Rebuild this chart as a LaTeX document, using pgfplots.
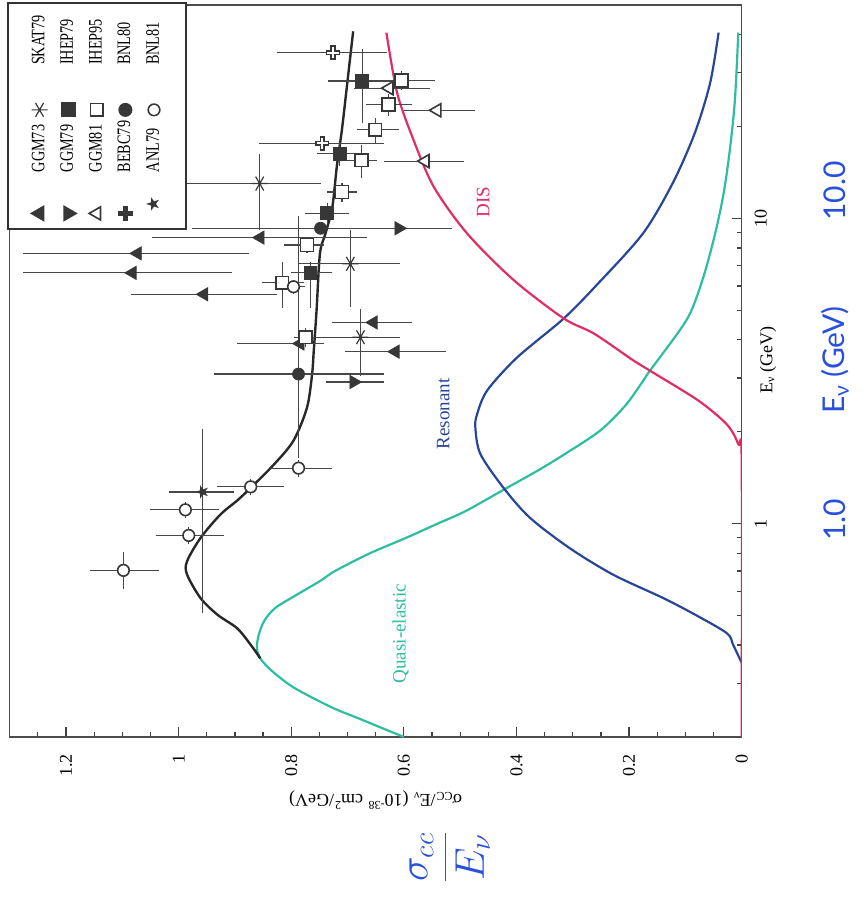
\documentclass[border=0pt]{standalone}
\usepackage{pgfplots}
\pgfplotsset{compat=1.18}
\usepackage{pgfplotstable}
\usepackage{fontspec}
\setmainfont{Liberation Serif}
\newfontfamily\condfont[FakeStretch=0.75]{Liberation Serif}
\newfontfamily\handfont{Lato}
\newfontfamily\symfont{DejaVu Sans}
\usetikzlibrary{plotmarks}

\definecolor{qecol}{RGB}{45,190,160}
\definecolor{rescol}{RGB}{40,70,150}
\definecolor{discol}{RGB}{225,45,100}
\definecolor{totcol}{RGB}{40,40,40}
\definecolor{pencol}{RGB}{40,80,220}
\definecolor{markcol}{RGB}{55,55,55}

% Model curves: E (GeV), sigma/E (1e-38 cm^2/GeV)
\pgfplotstableread{
E s
0.20 0.600
0.23 0.680
0.25 0.728
0.29 0.795
0.33 0.835
0.362 0.855
0.39 0.861
0.43 0.858
0.48 0.848
0.53 0.828
0.585 0.790
0.65 0.748
0.70 0.722
0.80 0.660
0.90 0.595
1.00 0.540
1.10 0.490
1.30 0.420
1.50 0.360
1.70 0.312
2.02 0.251
2.47 0.204
3.17 0.163
3.51 0.145
4.75 0.095
6.43 0.068
8.94 0.047
12.1 0.032
16.8 0.021
24.5 0.012
40.6 0.006
}\tabQE

\pgfplotstableread{
E s
0.35 0.000
0.40 0.015
0.437 0.026
0.50 0.080
0.57 0.139
0.68 0.228
0.83 0.305
1.045 0.376
1.31 0.423
1.69 0.464
2.06 0.473
2.28 0.470
2.73 0.452
3.50 0.399
4.70 0.316
6.12 0.255
8.94 0.175
13.1 0.122
19.1 0.083
27.8 0.056
40.6 0.041
}\tabRES

\pgfplotstableread{
E s
0.20 0.000
1.60 0.000
1.82 0.006
2.11 0.026
2.53 0.077
3.17 0.163
3.42 0.192
4.19 0.262
4.70 0.316
6.28 0.405
8.94 0.488
12.7 0.547
18.1 0.583
25.8 0.612
40.6 0.631
}\tabDIS

\pgfplotstableread{
E s
0.362 0.855
0.401 0.872
0.454 0.896
0.503 0.931
0.570 0.961
0.681 0.985
0.753 0.985
0.898 0.961
1.07 0.926
1.19 0.896
1.31 0.872
1.56 0.831
1.87 0.796
2.40 0.772
3.08 0.763
3.68 0.760
5.00 0.755
7.67 0.749
8.94 0.739
10.9 0.727
14.8 0.719
19.5 0.710
27.2 0.701
41.0 0.690
}\tabTOT

% Measurements: E, sigma/E, E errors (+,-), sigma/E errors (+,-)
\pgfplotstableread{
E s ep em sp sm
8.65 0.855 0 0 0.192 0.190
7.68 1.073 0 0 0.203 0.198
6.63 1.082 0 0 0.194 0.177
5.64 0.955 0 0 0.130 0.130
4.56 0.654 0 0 0.073 0.069
3.89 0.784 0 0 0.112 0.042
3.66 0.615 0 0 0.089 0.089
}\tabGGMa

\pgfplotstableread{
E s ep em sp sm
13.0 0.856 3.30 3.85 0.129 0.108
7.10 0.695 2.03 1.98 0.092 0.089
4.08 0.677 0.97 1.04 0.100 0.070
}\tabSKAT

\pgfplotstableread{
E s ep em sp sm
9.28 0.609 0 0 0.075 0.095
2.91 0.689 0 0 0.050 0.053
}\tabGGMb

\pgfplotstableread{
E s ep em sp sm
28.2 0.674 7.7 7.6 0.060 0.060
16.3 0.714 1.5 1.5 0.040 0.040
10.4 0.736 0.8 0.8 0.039 0.038
6.63 0.766 0.57 1.53 0.035 0.039
}\tabIHEPa

\pgfplotstableread{
E s ep em sp sm
26.7 0.626 0 0 0.063 0.073
22.6 0.541 0 0 0.059 0.068
15.4 0.562 0 0 0.074 0.068
}\tabGGMc

\pgfplotstableread{
E s ep em sp sm
28.3 0.604 2.0 2.0 0.040 0.060
23.6 0.627 2.0 2.0 0.041 0.042
19.5 0.651 1.8 1.8 0.032 0.042
15.5 0.675 1.9 1.9 0.029 0.027
12.2 0.710 0.9 0.9 0.026 0.027
8.18 0.772 0.5 0.5 0.041 0.030
6.15 0.816 1.05 1.05 0.036 0.038
4.08 0.775 0.3 0.3 0.020 0.020
}\tabIHEPb

\pgfplotstableread{
E s ep em sp sm
34.9 0.726 0 0 0.099 0.096
17.6 0.745 0 0 0.113 0.109
}\tabBEBC

\pgfplotstableread{
E s ep em sp sm
9.28 0.748 0 0 0.228 0.083
3.09 0.787 7.1 1.45 0.151 0.151
}\tabBNLa

\pgfplotstableread{
E s ep em sp sm
1.27 0.958 0.77 0.762 0.059 0.056
}\tabANL

\pgfplotstableread{
E s ep em sp sm
5.97 0.796 0.30 0.30 0.020 0.020
1.52 0.787 0.10 0.10 0.050 0.060
1.32 0.872 0.08 0.08 0.059 0.059
1.11 0.988 0.07 0.07 0.062 0.059
0.915 0.982 0.06 0.06 0.059 0.062
0.703 1.098 0.107 0.093 0.060 0.063
}\tabBNLb

\pgfplotsset{
  dat/.style={only marks, markcol,
    error bars/x dir=both, error bars/x explicit,
    error bars/y dir=both, error bars/y explicit,
    error bars/error mark=none,
    error bars/error bar style={line width=0.6pt, black!72}},
}

\begin{document}
\begin{tikzpicture}
\useasboundingbox (-370.85pt,-92pt) rectangle (62.7pt,368.5pt);
\begin{scope}[rotate=90, transform shape]
\begin{axis}[
  at={(0pt,0pt)}, anchor=south west,
  width=366pt, height=366pt, scale only axis,
  xmode=log, log basis x=10,
  xmin=0.2, xmax=50, ymin=0, ymax=1.3,
  xtick={1,10}, xticklabels={1,10},
  minor xtick={0.2,0.3,0.4,0.5,0.6,0.7,0.8,0.9,2,3,4,5,6,7,8,9,20,30,40,50},
  ytick={0,0.2,0.4,0.6,0.8,1,1.2}, yticklabels={0,0.2,0.4,0.6,0.8,1,1.2},
  minor ytick={0.05,0.1,0.15,0.25,0.3,0.35,0.45,0.5,0.55,0.65,0.7,0.75,0.85,0.9,0.95,1.05,1.1,1.15,1.25},
  tick pos=left, tick align=inside,
  major tick length=5pt, minor tick length=2.5pt,
  every tick/.style={black!75, line width=0.6pt},
  axis line style={black!70, line width=0.7pt},
  tick label style={font=\fontsize{9}{9}\selectfont},
  xticklabel shift=3pt, yticklabel shift=5pt,
  xlabel={E\textsubscript{ν} (GeV)},
  xlabel style={at={(axis description cs:0.515,-0.036)}, anchor=center, font=\fontsize{9}{9}\selectfont},
  ylabel={σ\textsubscript{CC}/E\textsubscript{ν} (10\textsuperscript{-38} cm\textsuperscript{2}/GeV)},
  ylabel style={at={(axis description cs:-0.086,0.5)}, anchor=center, font=\fontsize{9}{9}\selectfont},
  table/x=E, table/y=s,
  table/x error plus=ep, table/x error minus=em,
  table/y error plus=sp, table/y error minus=sm,
  legend columns=2,
  legend cell align=left,
  legend style={at={(axis description cs:1.004,1.004)}, anchor=north east,
    draw=black!80, line width=1pt, fill=white,
    font=\condfont\fontsize{9.5}{10}\selectfont,
    inner xsep=4pt, inner ysep=10pt, row sep=2.5pt,
    /tikz/column 1/.style={column sep=10pt},
    /tikz/column 2/.style={column sep=0pt},
    /tikz/column 3/.style={column sep=17pt}},
]
% model curves
\addplot[qecol, line width=1.1pt, smooth, forget plot] table[x=E, y=s] {\tabQE};
\addplot[rescol, line width=1.1pt, smooth, forget plot] table[x=E, y=s] {\tabRES};
\addplot[discol, line width=1.1pt, smooth, forget plot] table[x=E, y=s] {\tabDIS};
\addplot[totcol, line width=1.2pt, smooth, forget plot] table[x=E, y=s] {\tabTOT};

\node[qecol, font=\fontsize{9.5}{9.5}\selectfont] at (axis cs:0.436,0.606) {Quasi-elastic};
\node[rescol, font=\fontsize{9.5}{9.5}\selectfont] at (axis cs:2.29,0.530) {Resonant};
\node[discol, font=\fontsize{9.5}{9.5}\selectfont] at (axis cs:11.3,0.459) {DIS};

% measurements
\addplot[dat, mark=triangle*, mark size=3.8pt, mark options={fill=markcol, draw=markcol}] table {\tabGGMa};
\addlegendentry{GGM73}
\addplot[dat, mark=asterisk, mark size=4pt, mark options={draw=markcol, line width=0.6pt}] table {\tabSKAT};
\addlegendentry{SKAT79}
\addplot[dat, mark=triangle*, mark size=3.8pt, mark options={fill=markcol, draw=markcol, rotate=180}] table {\tabGGMb};
\addlegendentry{GGM79}
\addplot[dat, mark=square*, mark size=3.2pt, mark options={fill=markcol, draw=markcol}] table {\tabIHEPa};
\addlegendentry{IHEP79}
\addplot[dat, mark=triangle*, mark size=3.8pt, mark options={fill=white, draw=markcol, line width=0.8pt}] table {\tabGGMc};
\addlegendentry{GGM81}
\addplot[dat, mark=square*, mark size=3.2pt, mark options={fill=white, draw=markcol, line width=0.8pt}] table {\tabIHEPb};
\addlegendentry{IHEP95}
\addplot[dat, mark=+, mark size=3.6pt, mark options={draw=markcol, line width=2.6pt}] table {\tabBEBC};
\addlegendentry{BEBC79}
\addplot[dat, mark=*, mark size=3pt, mark options={fill=markcol, draw=markcol}] table {\tabBNLa};
\addlegendentry{BNL80}
\addplot[dat, mark=text, text mark={★}, text mark as node=true,
  text mark style={/tikz/font=\symfont\fontsize{9}{9}\selectfont, /tikz/text=markcol, /tikz/inner sep=0pt}] table {\tabANL};
\addlegendentry{ANL79}
\addplot[dat, mark=*, mark size=2.9pt, mark options={fill=white, draw=markcol, line width=0.8pt}] table {\tabBNLb};
\addlegendentry{BNL81}
% hollow centre of the BEBC crosses
\addplot[only marks, mark=+, mark size=2.8pt, mark options={draw=white, line width=1.0pt}, forget plot] table[x=E, y=s] {\tabBEBC};
\end{axis}
\end{scope}
% pen notes beside the axes
\node[rotate=90, text=pencol, font=\handfont\fontsize{15}{15}\selectfont] at (46.7pt,108.5pt) {1.0};
\node[rotate=90, text=pencol, font=\handfont\fontsize{15}{15}\selectfont] at (46.7pt,188.5pt) {E\textsubscript{ν} (GeV)};
\node[rotate=90, text=pencol, font=\handfont\fontsize{15}{15}\selectfont] at (46.7pt,273pt) {10.0};
\node[rotate=90, text=pencol, font=\fontsize{21}{21}\selectfont] at (-146pt,-60pt) {$\displaystyle\frac{\sigma_{cc}}{E_\nu}$};
\end{tikzpicture}
\end{document}
